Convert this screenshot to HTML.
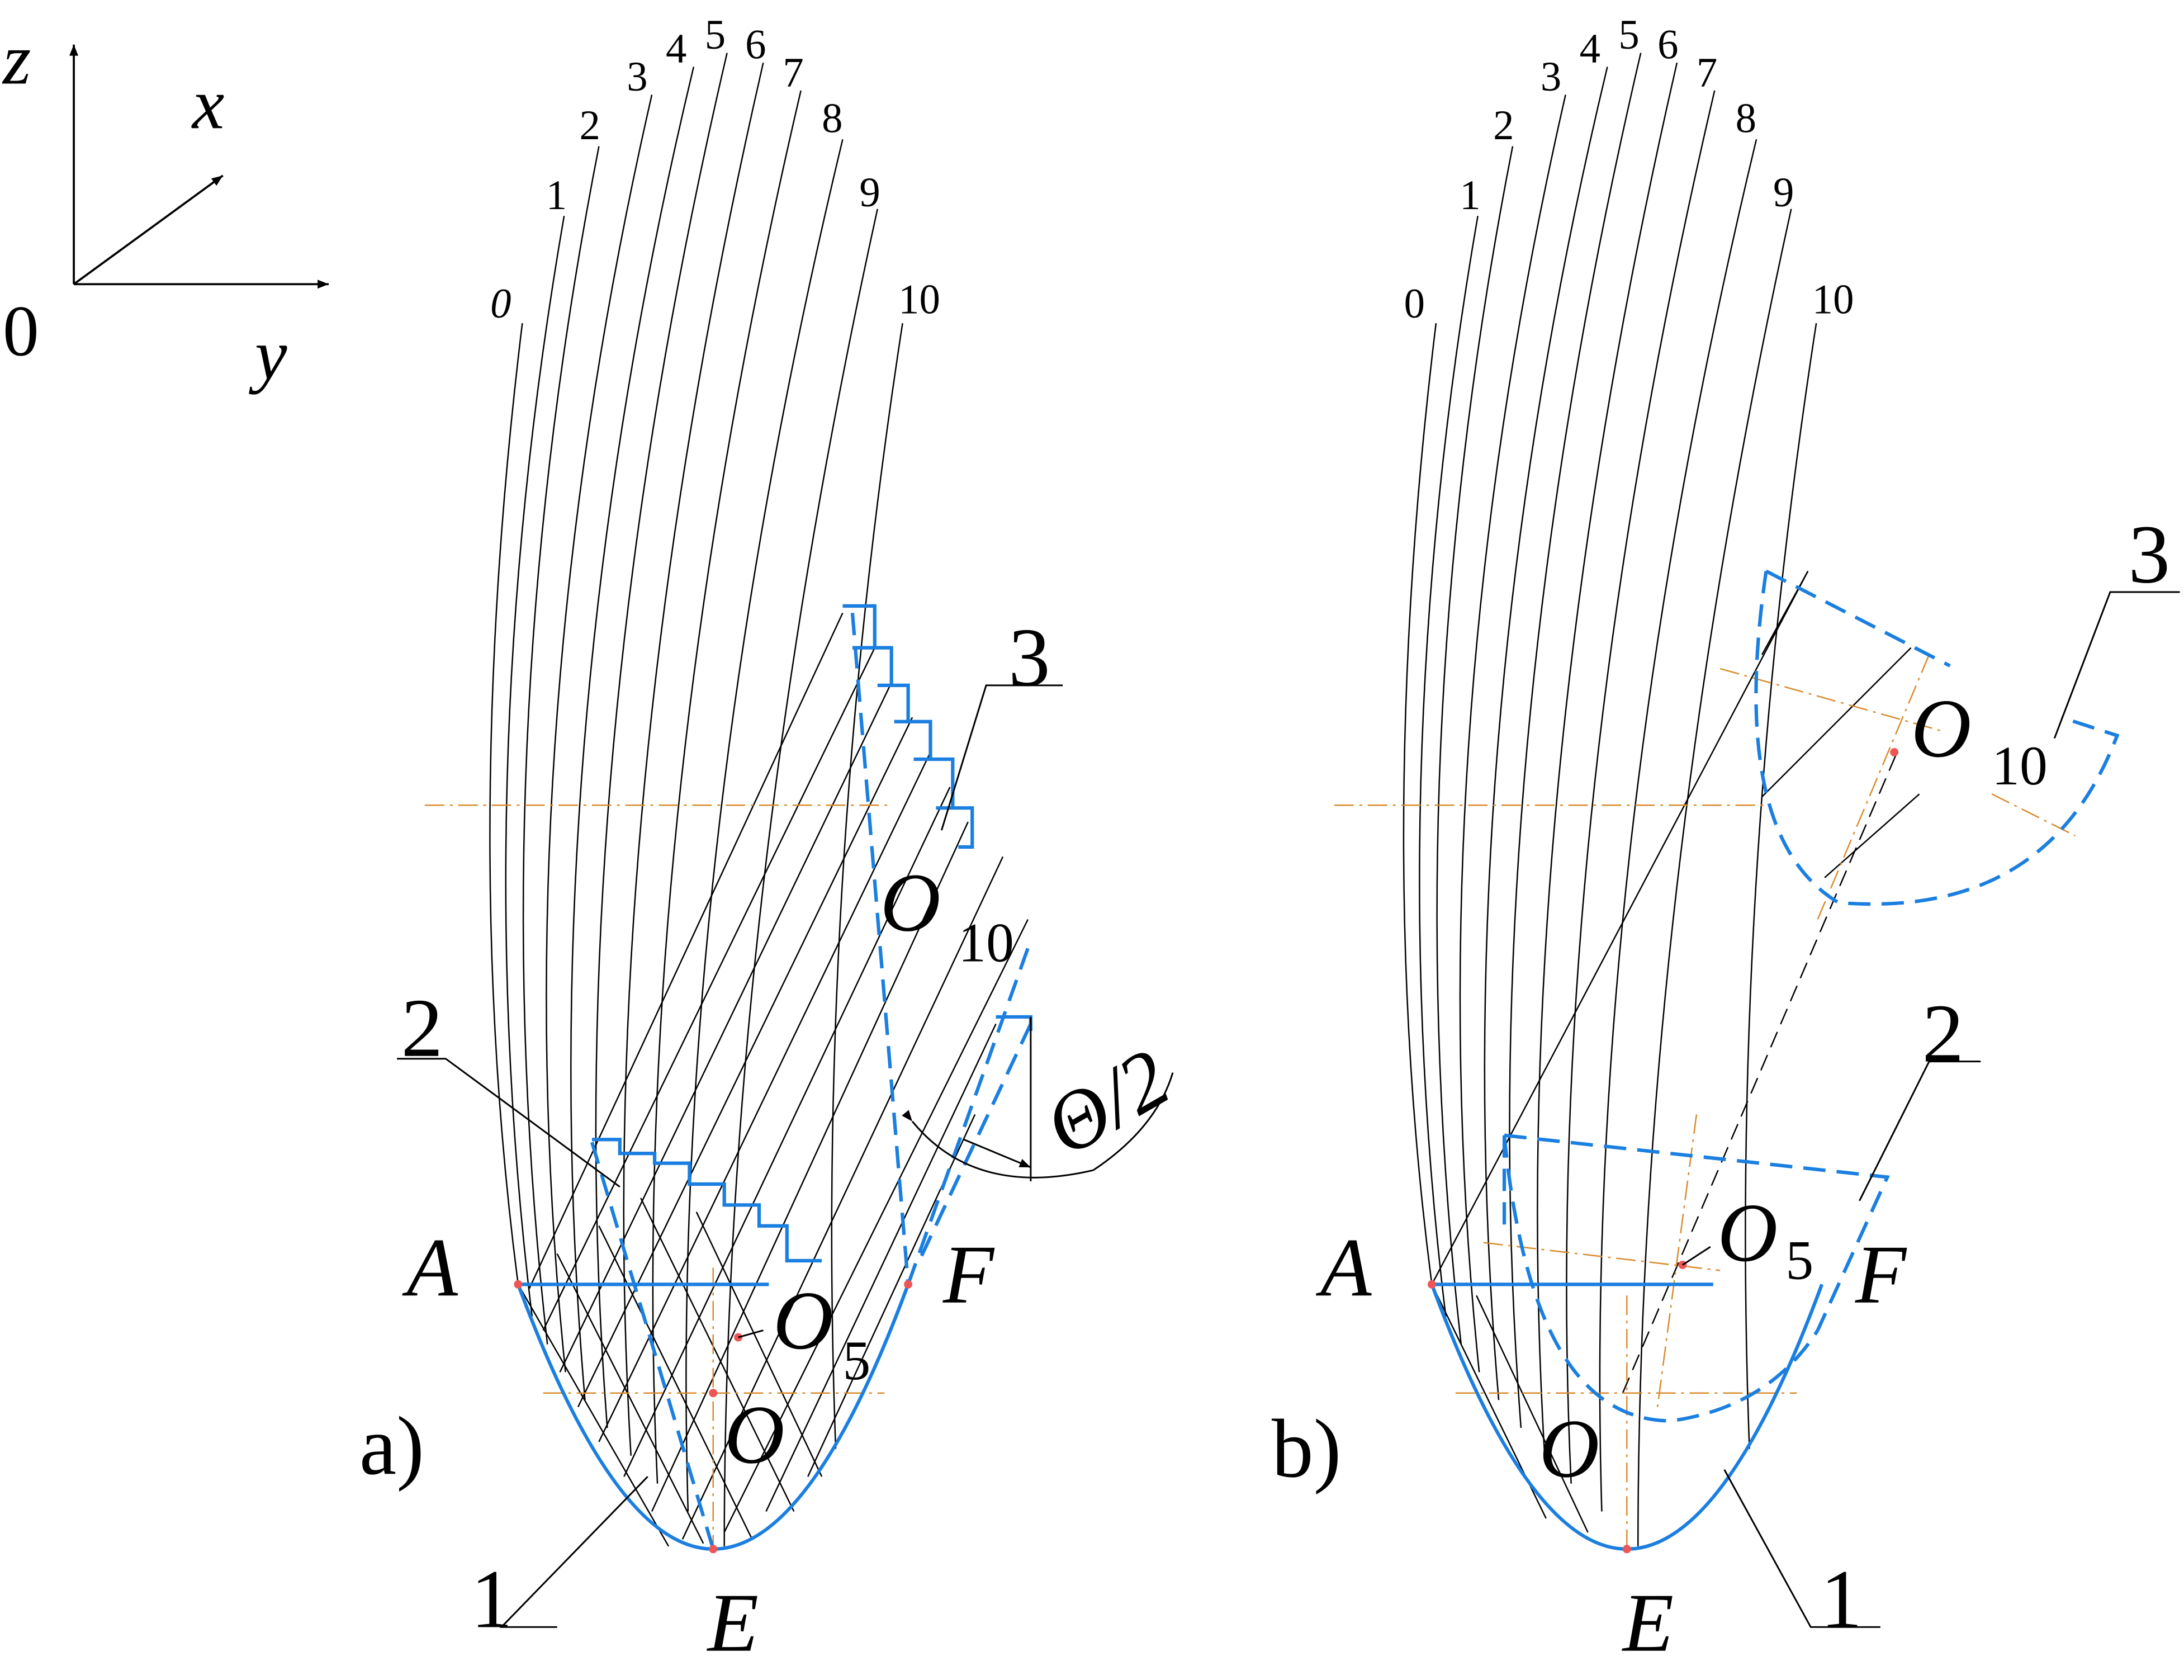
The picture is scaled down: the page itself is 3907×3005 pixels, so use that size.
<!DOCTYPE html>
<html><head><meta charset="utf-8"><style>html,body{margin:0;padding:0;background:#fff}svg{display:block}</style></head>
<body>
<svg width="3907" height="3005" viewBox="0 0 1568 1206" xmlns="http://www.w3.org/2000/svg" font-family="Liberation Serif, serif">
<defs>
<marker id="ar" viewBox="0 0 10 10" refX="10" refY="5" markerWidth="14" markerHeight="8" orient="auto" markerUnits="userSpaceOnUse"><path d="M0,1 L10,5 L0,9 z" fill="#000"/></marker>
</defs>
<!-- axes -->
<g stroke="#000" stroke-width="1.5" fill="none">
<line x1="53" y1="204" x2="53" y2="32" marker-end="url(#ar)"/>
<line x1="53" y1="204" x2="236" y2="204" marker-end="url(#ar)"/>
<line x1="53" y1="204" x2="160" y2="126" marker-end="url(#ar)"/>
</g>
<g font-size="52" font-style="italic">
<text x="2" y="60">z</text><text x="138" y="92">x</text><text x="183" y="272">y</text>
</g>
<text x="2" y="255" font-size="52">0</text>

<!-- ===== diagram a ===== -->
<g id="a">
<g stroke="#000" stroke-width="1" fill="none">
<path d="M375,232 Q330,600 372,922"/>
<path d="M405,155 Q335,560 382,945"/>
<path d="M430,105 Q345,540 393,965"/>
<path d="M468,68 Q360,540 406,985"/>
<path d="M498,48 Q380,540 420,1005"/>
<path d="M522,38 Q400,560 436,1025"/>
<path d="M548,45 Q425,580 453,1045"/>
<path d="M575,65 Q450,600 472,1065"/>
<path d="M605,100 Q480,620 494,1085"/>
<path d="M630,150 Q520,650 520,1110"/>
<path d="M648,232 Q585,640 600,1040"/>
</g>
<g stroke="#000" stroke-width="1">
<line x1="380" y1="925" x2="605" y2="440"/>
<line x1="390" y1="955" x2="628" y2="465"/>
<line x1="402" y1="985" x2="640" y2="490"/>
<line x1="415" y1="1010" x2="655" y2="515"/>
<line x1="430" y1="1035" x2="668" y2="540"/>
<line x1="448" y1="1060" x2="682" y2="565"/>
<line x1="468" y1="1085" x2="695" y2="590"/>
<line x1="490" y1="1105" x2="720" y2="615"/>
<line x1="520" y1="1100" x2="738" y2="660"/>
<line x1="550" y1="1085" x2="715" y2="735"/>
<line x1="580" y1="1060" x2="700" y2="800"/>
<!-- reverse hatch -->
<line x1="372" y1="922" x2="480" y2="1110"/>
<line x1="400" y1="900" x2="505" y2="1108"/>
<line x1="430" y1="880" x2="540" y2="1105"/>
<line x1="460" y1="860" x2="570" y2="1085"/>
<line x1="500" y1="870" x2="590" y2="1060"/>
</g>
<g stroke="#d98a2b" stroke-width="1" stroke-dasharray="14,4,2,4">
<line x1="305" y1="578" x2="640" y2="578"/>
<line x1="390" y1="1000" x2="635" y2="1000"/>
<line x1="512" y1="910" x2="512" y2="1112"/>
</g>
<g stroke="#1a7fe0" stroke-width="2.5" fill="none">
<path d="M372,922 Q512,1302 652,922"/>
<line x1="372" y1="922" x2="552" y2="922"/>
<path d="M605,435 L628,435 L628,465 L612,465 M612,465 L640,465 L640,492 L630,492 L652,492 L652,518 L642,518 L668,518 L668,545 L656,545 L684,545 L684,580 L672,580 L698,580 L698,608 L688,608"/>
<path d="M425,818 L445,818 L445,828 L470,828 L470,835 L495,835 L495,850 L520,850 L520,865 L545,865 L545,880 L565,880 L565,905 L590,905"/>
<path d="M715,730 L740,730 L740,740" />
</g>
<g stroke="#1a7fe0" stroke-width="2.5" fill="none" stroke-dasharray="16,8">
<line x1="612" y1="440" x2="652" y2="922"/>
<line x1="425" y1="820" x2="512" y2="1112"/>
<line x1="652" y1="922" x2="740" y2="675"/>
<line x1="740" y1="735" x2="660" y2="905"/>
</g>
<g fill="#e55"><circle cx="372" cy="922" r="3"/><circle cx="652" cy="922" r="3"/><circle cx="512" cy="1112" r="3"/><circle cx="512" cy="1000" r="3"/><circle cx="530" cy="960" r="3"/></g>
<g stroke="#000" stroke-width="1.2" fill="none">
<line x1="740" y1="730" x2="740" y2="848"/>
<path d="M655,805 Q700,860 785,840" marker-start="url(#ar)"/>
<path d="M785,840 Q830,810 842,770"/>
<line x1="692" y1="818" x2="740" y2="838" marker-end="url(#ar)"/>
<!-- leaders -->
<polyline points="285,760 320,760 445,852"/>
<polyline points="400,1168 360,1168 465,1060"/>
<polyline points="763,492 708,492 676,596"/>
<polyline points="530,960 548,955"/>
</g>
<g font-size="60" font-style="italic">
<text x="292" y="930">A</text><text x="677" y="935">F</text>
<text x="555" y="968">O</text><text x="520" y="1050">O</text>
<text x="508" y="1185">E</text><text x="632" y="668">O</text>
<text x="752" y="820" transform="rotate(-30 780 800)">Θ/2</text>
</g>
<g font-size="40"><text x="605" y="990">5</text><text x="688" y="690">10</text></g>
<g font-size="60"><text x="258" y="1058">a)</text><text x="338" y="1168">1</text><text x="288" y="758">2</text><text x="724" y="492">3</text></g>
<g font-size="30" font-style="italic"><text x="352" y="228">0</text></g>
<g font-size="30"><text x="392" y="150">1</text><text x="416" y="100">2</text><text x="450" y="65">3</text><text x="478" y="45">4</text><text x="506" y="35">5</text><text x="535" y="42">6</text><text x="562" y="62">7</text><text x="590" y="95">8</text><text x="617" y="148">9</text><text x="645" y="225">10</text></g>
</g>

<!-- ===== diagram b ===== -->
<g>
<g stroke="#000" stroke-width="1" fill="none">
<path d="M1031,232 Q986,600 1028,922"/>
<path d="M1061,155 Q991,560 1038,945"/>
<path d="M1086,105 Q1001,540 1049,965"/>
<path d="M1124,68 Q1016,540 1062,985"/>
<path d="M1154,48 Q1036,540 1076,1005"/>
<path d="M1178,38 Q1056,560 1092,1025"/>
<path d="M1204,45 Q1081,580 1109,1045"/>
<path d="M1231,65 Q1106,600 1128,1065"/>
<path d="M1261,100 Q1136,620 1150,1085"/>
<path d="M1286,150 Q1176,650 1176,1110"/>
<path d="M1304,232 Q1241,640 1256,1040"/>
</g>
<g stroke="#000" stroke-width="1">
<line x1="1028" y1="922" x2="1298" y2="410"/>
<line x1="1265" y1="470" x2="1298" y2="410"/>
<line x1="1265" y1="572" x2="1372" y2="465"/>
<line x1="1310" y1="630" x2="1378" y2="570"/>
<line x1="1028" y1="922" x2="1110" y2="1090"/>
<line x1="1060" y1="930" x2="1140" y2="1100"/>
</g>
<g stroke="#000" stroke-width="1" stroke-dasharray="12,6">
<line x1="1165" y1="1000" x2="1362" y2="540"/>
</g>
<g stroke="#d98a2b" stroke-width="1" stroke-dasharray="14,4,2,4">
<line x1="958" y1="578" x2="1270" y2="578"/>
<line x1="1045" y1="1000" x2="1290" y2="1000"/>
<line x1="1168" y1="930" x2="1168" y2="1112"/>
<line x1="1235" y1="480" x2="1395" y2="525"/>
<line x1="1385" y1="470" x2="1305" y2="660"/>
<line x1="1430" y1="570" x2="1490" y2="600"/>
<line x1="1065" y1="892" x2="1235" y2="912"/>
<line x1="1218" y1="800" x2="1190" y2="1010"/>
</g>
<g stroke="#1a7fe0" stroke-width="2.5" fill="none">
<path d="M1028,922 Q1168,1302 1308,922"/>
<line x1="1028" y1="922" x2="1230" y2="922"/>
</g>
<g stroke="#1a7fe0" stroke-width="2.5" fill="none" stroke-dasharray="16,8">
<path d="M1268,410 L1400,478"/>
<path d="M1268,410 Q1240,600 1320,648 Q1470,660 1520,528 L1480,515"/>
<path d="M1080,815 L1355,845 L1305,955"/>
<path d="M1080,815 Q1100,1020 1200,1020 Q1270,1010 1305,955"/>
<line x1="1080" y1="815" x2="1080" y2="880"/>
</g>
<g fill="#e55"><circle cx="1028" cy="922" r="3"/><circle cx="1168" cy="1112" r="3"/><circle cx="1208" cy="908" r="3"/><circle cx="1360" cy="540" r="3"/></g>
<g stroke="#000" stroke-width="1.2" fill="none">
<polyline points="1565,425 1515,425 1475,530"/>
<polyline points="1422,762 1385,762 1335,862"/>
<polyline points="1350,1168 1300,1168 1238,1055"/>
<polyline points="1208,908 1228,895"/>
</g>
<g font-size="60" font-style="italic">
<text x="948" y="930">A</text><text x="1332" y="935">F</text>
<text x="1233" y="905">O</text><text x="1105" y="1060">O</text>
<text x="1165" y="1185">E</text><text x="1372" y="543">O</text>
</g>
<g font-size="40"><text x="1282" y="918">5</text><text x="1430" y="563">10</text></g>
<g font-size="60"><text x="913" y="1060">b)</text><text x="1307" y="1168">1</text><text x="1380" y="762">2</text><text x="1528" y="418">3</text></g>
<g font-size="30"><text x="1008" y="228">0</text><text x="1048" y="150">1</text><text x="1072" y="100">2</text><text x="1106" y="65">3</text><text x="1134" y="45">4</text><text x="1162" y="35">5</text><text x="1190" y="42">6</text><text x="1218" y="62">7</text><text x="1246" y="95">8</text><text x="1273" y="148">9</text><text x="1301" y="225">10</text></g>
</g>
</svg>
</body></html>
